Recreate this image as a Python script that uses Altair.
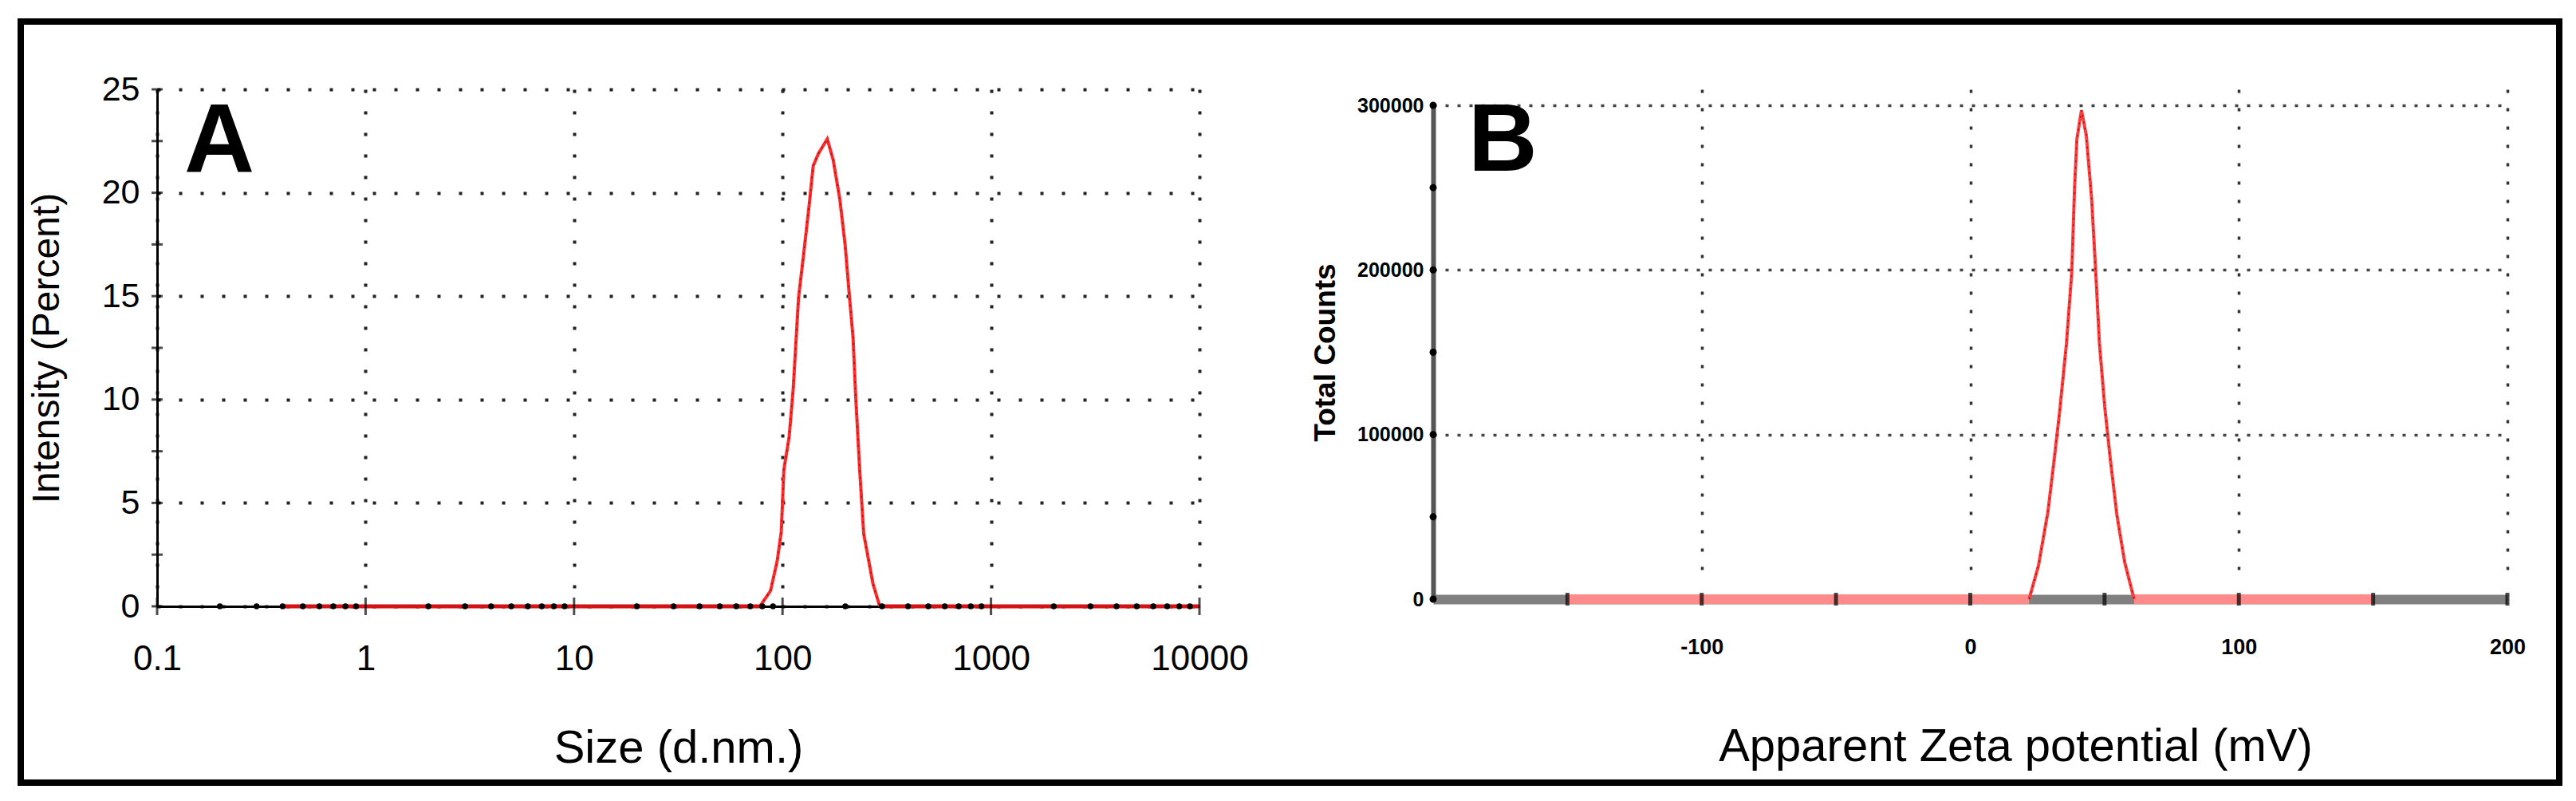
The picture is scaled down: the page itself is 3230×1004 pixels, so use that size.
import altair as alt
import pandas as pd

# ---------------- Panel A: size distribution by intensity ----------------
size_nm = [0.4, 77.9, 87.6, 94.3, 98.6, 101.5, 107.6, 112.5, 119.3, 126.5, 134.2, 140.3,
           148.7, 163.9, 174.9, 188.2, 199.6, 208.5, 217.9, 224.5, 234.5, 245.2, 271.5,
           292.5, 10000]
intensity_pct = [0, 0, 0.75, 2.2, 3.6, 6.6, 8.2, 10.5, 14.9, 17.1, 19.4, 21.3,
                 21.9, 22.6, 21.6, 19.7, 17.5, 15.2, 13.0, 10.1, 6.6, 3.5, 1.1,
                 0, 0]
size_labels = [0.1, 1, 10, 100, 1000, 10000]
size_minor = [0.2, 0.3, 0.4, 0.5, 0.6, 0.7, 0.8, 0.9,
              2, 3, 4, 5, 6, 7, 8, 9,
              20, 30, 40, 50, 60, 70, 80, 90,
              200, 300, 400, 500, 600, 700, 800, 900,
              2000, 3000, 4000, 5000, 6000, 7000, 8000, 9000]
intensity_labels = [0, 5, 10, 15, 20, 25]
intensity_ticks = [0, 2.5, 5, 7.5, 10, 12.5, 15, 17.5, 20, 22.5, 25]

# ---------------- Panel B: zeta potential distribution ----------------
zeta_mv = [-150, 21.9, 25.4, 28.9, 31.3, 33.3, 35.8, 37.8, 38.8, 39.7, 41.4,
           43.2, 45.2, 46.7, 48.1, 50.1, 52.1, 54.6, 57.5, 61.0, 150]
total_counts = [0, 0, 20400, 53000, 85700, 114300, 155100, 199000, 249000, 279600, 297000,
                281700, 242900, 199000, 155100, 116300, 85700, 51000, 22400, 0, 0]
zeta_labels = [-100, 0, 100, 200]
zeta_ticks = [-150, -100, -50, 0, 50, 100, 150, 200]
count_labels = [0, 100000, 200000, 300000]
count_ticks = [0, 50000, 100000, 150000, 200000, 250000, 300000]

SANS = "Liberation Sans, Arial, sans-serif"


def split_parts(xs, ys):
    n = len(xs)
    rows = []
    for i in (0, 1):
        rows.append({"x": xs[i], "y": ys[i], "part": "base1"})
    for i in range(1, n - 1):
        rows.append({"x": xs[i], "y": ys[i], "part": "peak"})
    for i in (n - 2, n - 1):
        rows.append({"x": xs[i], "y": ys[i], "part": "base2"})
    return pd.DataFrame(rows)


# ---------------- Panel A ----------------
WA, HA = 1307, 648
xa_scale = alt.Scale(type="log", domain=[0.1, 10000], nice=False)
ya_scale = alt.Scale(domain=[0, 25], nice=False)
xa_axis = alt.Axis(values=size_labels, format=".1~f", ticks=False,
                   labelFont=SANS, labelFontSize=44, labelColor="black", labelPadding=44,
                   labelFlush=False, labelOverlap=False,
                   domainColor="black", domainWidth=3,
                   grid=True, gridColor="#222222", gridDash=[4, 23], gridWidth=4,
                   title="Size (d.nm.)", titleFont=SANS, titleFontSize=58,
                   titleFontWeight="normal", titleColor="black", titlePadding=61)
ya_axis = alt.Axis(values=intensity_labels, ticks=False,
                   labelFont=SANS, labelFontSize=43, labelColor="black", labelPadding=22,
                   labelFlush=False,
                   domainColor="black", domainWidth=3,
                   grid=True, gridColor="#222222", gridDash=[4, 23], gridWidth=4,
                   title="Intensity (Percent)", titleFont=SANS, titleFontSize=48,
                   titleFontWeight="normal", titleColor="black", titlePadding=44)


def XA(field):
    return alt.X(field, type="quantitative", scale=xa_scale, axis=xa_axis)


def YA(field):
    return alt.Y(field, type="quantitative", scale=ya_scale, axis=ya_axis)


df_a = split_parts(size_nm, intensity_pct)
one = pd.DataFrame({"t": ["A"]})

frame = alt.Chart(one).mark_rect(fillOpacity=0, stroke="black", strokeWidth=8).encode(
    x=alt.value(-171), x2=alt.value(3012), y=alt.value(-85), y2=alt.value(869))

a_minor = alt.Chart(pd.DataFrame({"x": size_minor})).mark_circle(
    size=55, color="black", opacity=1).encode(x=XA("x"), y=alt.value(HA))
a_major = alt.Chart(pd.DataFrame({"x": size_labels})).mark_tick(
    orient="vertical", size=22, thickness=3, color="black").encode(x=XA("x"), y=alt.value(HA))
a_yticks = alt.Chart(pd.DataFrame({"y": intensity_ticks})).mark_tick(
    orient="horizontal", size=14, thickness=3, color="black").encode(y=YA("y"), x=alt.value(0))
a_base = alt.Chart(df_a).transform_filter("datum.part != 'peak'").mark_line(
    color="#d41414", strokeWidth=5).encode(x=XA("x"), y=YA("y"), detail="part:N")
a_peak = alt.Chart(df_a).transform_filter("datum.part == 'peak'").mark_line(
    color="#ff2a2a", strokeWidth=4).encode(x=XA("x"), y=YA("y"))
a_peak_dots = alt.Chart(df_a).transform_filter("datum.part == 'peak'").mark_line(
    color="black", strokeWidth=1.5, strokeDash=[2, 6], opacity=0.45).encode(x=XA("x"), y=YA("y"))
a_letter = alt.Chart(one).mark_text(
    text="A", font=SANS, fontSize=122, fontWeight="bold", align="left",
    baseline="alphabetic", color="black").encode(x=alt.value(34), y=alt.value(104))

panel_a = alt.layer(frame, a_yticks, a_base, a_peak, a_peak_dots, a_minor, a_major,
                    a_letter).properties(width=WA, height=HA)

# ---------------- Panel B ----------------
WB, HB = 1347, 639
xb_scale = alt.Scale(domain=[-200, 200], nice=False)
yb_scale = alt.Scale(domain=[0, 300000], range=[HB, 20], nice=False)
xb_axis = alt.Axis(values=zeta_labels, labelExpr="'' + datum.value", ticks=False,
                   labelFont=SANS, labelFontSize=27, labelFontWeight="bold",
                   labelColor="black", labelPadding=47,
                   labelFlush=False, labelOverlap=False,
                   domainColor="#808080", domainWidth=12,
                   grid=True, gridColor="#333333", gridDash=[4, 19], gridWidth=3.5,
                   title="Apparent Zeta potential (mV)", titleFont=SANS, titleFontSize=58,
                   titleFontWeight="normal", titleColor="black", titlePadding=83,
                   titleX=730)
yb_axis = alt.Axis(values=count_labels, labelExpr="'' + datum.value", ticks=False,
                   labelFont=SANS, labelFontSize=25, labelFontWeight="bold",
                   labelColor="black", labelPadding=12,
                   labelFlush=False,
                   domainColor="#555555", domainWidth=6,
                   grid=True, gridColor="#444444", gridDash=[4, 11], gridWidth=3.5,
                   title="Total Counts", titleFont=SANS, titleFontSize=37,
                   titleFontWeight="bold", titleColor="black", titlePadding=20)


def XB(field):
    return alt.X(field, type="quantitative", scale=xb_scale, axis=xb_axis)


def YB(field):
    return alt.Y(field, type="quantitative", scale=yb_scale, axis=yb_axis)


df_b = split_parts(zeta_mv, total_counts)
oneb = pd.DataFrame({"t": ["B"]})

b_base = alt.Chart(df_b).transform_filter("datum.part != 'peak'").mark_line(
    color="#ff8a8a", strokeWidth=12).encode(x=XB("x"), y=YB("y"), detail="part:N")
b_peak = alt.Chart(df_b).transform_filter("datum.part == 'peak'").mark_line(
    color="#ff3b3b", strokeWidth=4).encode(x=XB("x"), y=YB("y"))
b_peak_dots = alt.Chart(df_b).transform_filter("datum.part == 'peak'").mark_line(
    color="black", strokeWidth=1.5, strokeDash=[2, 6], opacity=0.5).encode(x=XB("x"), y=YB("y"))
b_yticks = alt.Chart(pd.DataFrame({"y": count_ticks})).mark_circle(
    size=80, color="black", opacity=1).encode(y=YB("y"), x=alt.value(0))
b_xticks = alt.Chart(pd.DataFrame({"x": zeta_ticks, "y": [0] * len(zeta_ticks)})).mark_tick(
    orient="vertical", size=16, thickness=5, color="black").encode(x=XB("x"), y=YB("y"))
b_letter = alt.Chart(oneb).mark_text(
    text="B", font=SANS, fontSize=120, fontWeight="bold", align="left",
    baseline="alphabetic", color="black").encode(x=alt.value(44), y=alt.value(102))

panel_b = alt.layer(b_base, b_peak, b_peak_dots, b_yticks, b_xticks,
                    b_letter).properties(width=WB, height=HB)

chart = alt.hconcat(panel_a, panel_b, spacing=293, bounds="flush").properties(
    padding={"left": 14, "top": 15, "right": 0, "bottom": 0},
    background="white",
).configure_view(stroke=None)

chart.save("out.html", embed_options={"renderer": "svg", "actions": False})
